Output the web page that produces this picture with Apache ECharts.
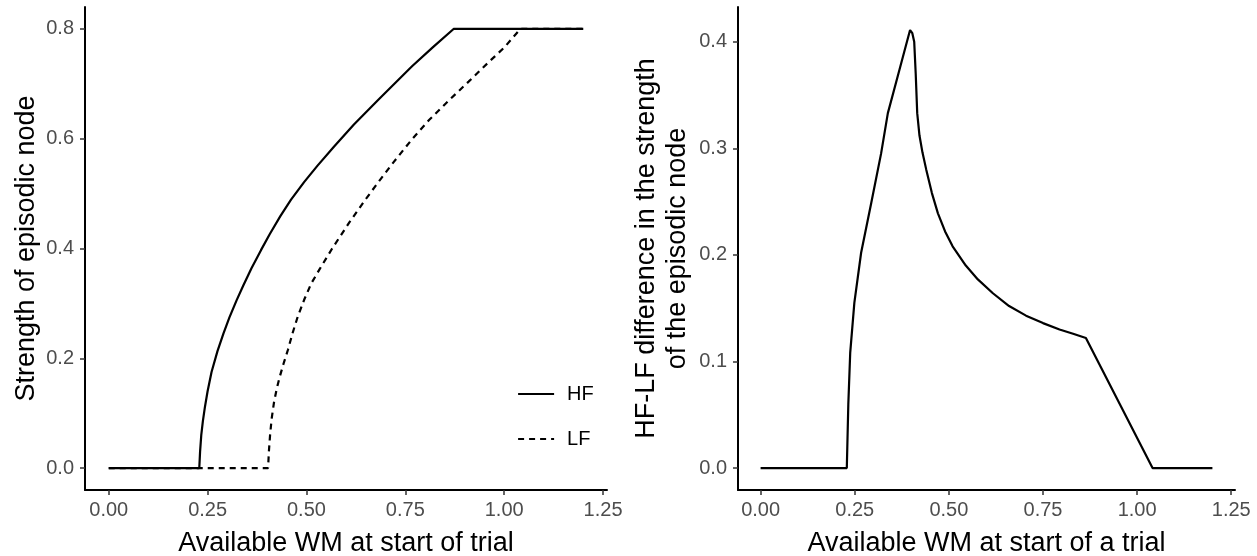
<!DOCTYPE html>
<html>
<head>
<meta charset="utf-8">
<script src="https://cdn.jsdelivr.net/npm/echarts@6/dist/echarts.min.js"></script>
<style>
html,body{margin:0;padding:0;background:#fff;}
#c{width:1257px;height:556px;}
</style>
</head>
<body>
<div id="c"></div>
<script>
// ---- data ----
const xTicks = [0, 0.25, 0.5, 0.75, 1.0, 1.25];
const yTicksLeft = [0, 0.2, 0.4, 0.6, 0.8];
const yTicksRight = [0, 0.1, 0.2, 0.3, 0.4];

const hfX = [0, 0.229, 0.231, 0.234, 0.238, 0.243, 0.25, 0.26, 0.275, 0.29, 0.305, 0.323, 0.34, 0.361, 0.385, 0.407, 0.434, 0.461, 0.494, 0.528, 0.57, 0.62, 0.683, 0.725, 0.767, 0.82, 0.872, 1.2];
const hfY = [0, 0, 0.03, 0.06, 0.085, 0.11, 0.14, 0.175, 0.213, 0.245, 0.274, 0.305, 0.332, 0.364, 0.397, 0.426, 0.459, 0.489, 0.521, 0.551, 0.586, 0.626, 0.672, 0.702, 0.732, 0.767, 0.8, 0.8];

const lfX = [0, 0.403, 0.405, 0.408, 0.412, 0.418, 0.425, 0.432, 0.442, 0.453, 0.465, 0.478, 0.495, 0.512, 0.533, 0.565, 0.608, 0.65, 0.683, 0.72, 0.767, 0.81, 0.859, 0.91, 0.96, 1.0, 1.041, 1.2];
const lfY = [0, 0, 0.03, 0.06, 0.09, 0.12, 0.145, 0.165, 0.19, 0.215, 0.246, 0.276, 0.308, 0.336, 0.362, 0.4, 0.447, 0.49, 0.522, 0.557, 0.599, 0.634, 0.669, 0.704, 0.739, 0.766, 0.8, 0.8];

const dX = [0, 0.229, 0.233, 0.238, 0.249, 0.267, 0.294, 0.32, 0.338, 0.369, 0.397, 0.403, 0.408, 0.412, 0.416, 0.422, 0.43, 0.44, 0.455, 0.471, 0.49, 0.51, 0.545, 0.577, 0.617, 0.66, 0.705, 0.75, 0.794, 0.83, 0.864, 1.041, 1.2];
const dY = [0, 0, 0.06, 0.108, 0.155, 0.202, 0.249, 0.295, 0.333, 0.374, 0.411, 0.408, 0.40, 0.37, 0.333, 0.312, 0.296, 0.28, 0.258, 0.239, 0.222, 0.208, 0.19, 0.177, 0.164, 0.152, 0.143, 0.136, 0.130, 0.126, 0.122, 0, 0];

const seriesNames = ['HF', 'LF'];
const xTitleLeft = 'Available WM at start of trial';
const xTitleRight = 'Available WM at start of a trial';
const yTitleLeft = 'Strength of episodic node';
const yTitleRight = 'HF-LF difference in the strength\nof the episodic node';

// ---- chart ----
const FONT = '"Liberation Sans", Arial, sans-serif';
const pairs = (xs, ys) => xs.map((x, i) => [x, ys[i]]);

function xAxis(gridIndex, title) {
  return {
    type: 'value', gridIndex, min: -0.06, max: 1.26,
    name: title, nameLocation: 'middle', nameGap: 40,
    nameTextStyle: { fontSize: 27, color: '#000', fontFamily: FONT },
    axisLine: { show: true, onZero: false, lineStyle: { color: '#000', width: 2 } },
    axisTick: { show: true, customValues: xTicks, length: 5, lineStyle: { color: '#333', width: 1.5 } },
    axisLabel: { customValues: xTicks, margin: 10, fontSize: 20, color: '#4d4d4d', fontFamily: FONT,
      formatter: v => v.toFixed(2) },
    splitLine: { show: false }
  };
}
function yAxis(gridIndex, min, max, ticks, title, gap) {
  return {
    type: 'value', gridIndex, min, max,
    name: title, nameLocation: 'middle', nameGap: gap, nameRotate: 90,
    nameTextStyle: { fontSize: 27, color: '#000', fontFamily: FONT, lineHeight: 31, align: 'center' },
    axisLine: { show: true, onZero: false, lineStyle: { color: '#000', width: 2 } },
    axisTick: { show: true, customValues: ticks, length: 5, lineStyle: { color: '#333', width: 1.5 } },
    axisLabel: { customValues: ticks, margin: 11, fontSize: 20, color: '#4d4d4d', fontFamily: FONT,
      formatter: v => v.toFixed(1) },
    splitLine: { show: false }
  };
}

const chart = echarts.init(document.getElementById('c'), null, { renderer: 'canvas' });
chart.setOption({
  animation: false,
  backgroundColor: '#fff',
  grid: [
    { left: 85, right: 650, top: 7, bottom: 66, outerBoundsMode: 'none', containLabel: false },
    { left: 738, right: 22, top: 7, bottom: 66, outerBoundsMode: 'none', containLabel: false }
  ],
  xAxis: [xAxis(0, xTitleLeft), xAxis(1, xTitleRight)],
  yAxis: [
    yAxis(0, -0.04, 0.84, yTicksLeft, yTitleLeft, 42),
    yAxis(1, -0.0206, 0.4326, yTicksRight, yTitleRight, 45)
  ],
  legend: {
    data: seriesNames, orient: 'vertical', left: 512, top: 379,
    itemWidth: 36, itemHeight: 20, itemGap: 25,
    itemStyle: { color: 'rgba(0,0,0,0)', borderColor: 'rgba(0,0,0,0)', borderWidth: 0, opacity: 0 },
    lineStyle: { width: 2.2 },
    textStyle: { fontSize: 20, color: '#000', fontFamily: FONT, padding: [0, 0, 0, 8] }
  },
  series: [
    { name: seriesNames[0], type: 'line', xAxisIndex: 0, yAxisIndex: 0, data: pairs(hfX, hfY),
      showSymbol: false, symbol: 'none', color: '#000',
      lineStyle: { color: '#000', width: 2.2, type: 'solid' } },
    { name: seriesNames[1], type: 'line', xAxisIndex: 0, yAxisIndex: 0, data: pairs(lfX, lfY),
      showSymbol: false, symbol: 'none', color: '#000',
      lineStyle: { color: '#000', width: 2.2, type: [6, 5] } },
    { name: 'diff', type: 'line', xAxisIndex: 1, yAxisIndex: 1, data: pairs(dX, dY),
      showSymbol: false, symbol: 'none', color: '#000',
      lineStyle: { color: '#000', width: 2.2 } }
  ]
});
</script>
</body>
</html>
